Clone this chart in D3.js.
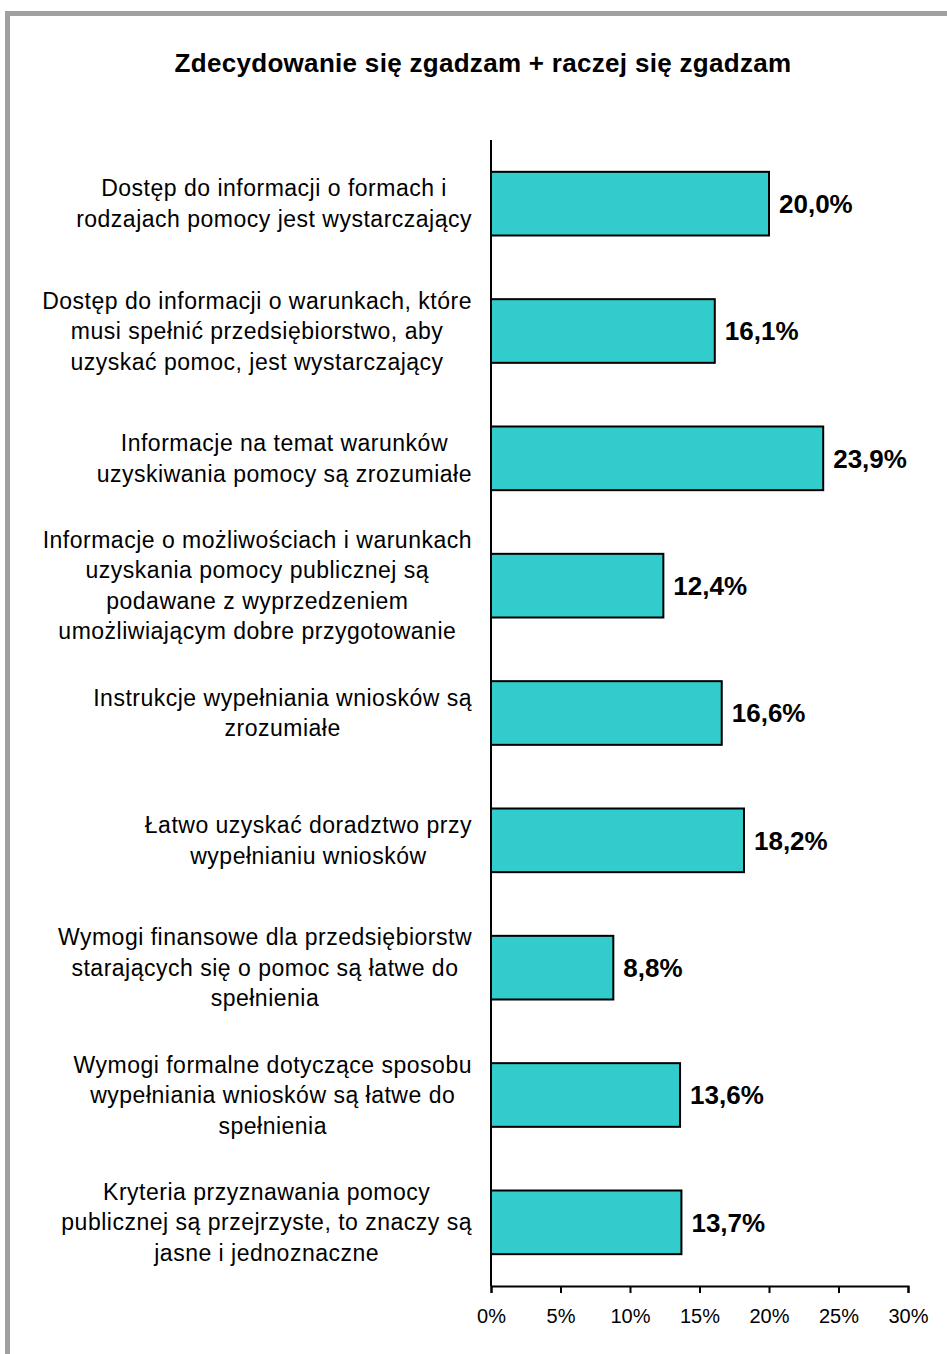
<!DOCTYPE html>
<html>
<head>
<meta charset="utf-8">
<script src="https://cdn.jsdelivr.net/npm/d3@7"></script>
<style>
  html, body { margin: 0; padding: 0; background: #fff; }
  svg { display: block; font-family: "Liberation Sans", Arial, sans-serif; }
</style>
</head>
<body>
<svg id="chart" width="947" height="1354"></svg>
<script>
const title = "Zdecydowanie się zgadzam + raczej się zgadzam";

// category labels, already wrapped the way the original wraps them
const categories = [
  ["Dostęp do informacji o formach i", "rodzajach pomocy jest wystarczający"],
  ["Dostęp do informacji o warunkach, które", "musi spełnić przedsiębiorstwo, aby", "uzyskać pomoc, jest wystarczający"],
  ["Informacje na temat warunków", "uzyskiwania pomocy są zrozumiałe"],
  ["Informacje o możliwościach i warunkach", "uzyskania pomocy publicznej są", "podawane z wyprzedzeniem", "umożliwiającym dobre przygotowanie"],
  ["Instrukcje wypełniania wniosków są", "zrozumiałe"],
  ["Łatwo uzyskać doradztwo przy", "wypełnianiu wniosków"],
  ["Wymogi finansowe dla przedsiębiorstw", "starających się o pomoc są łatwe do", "spełnienia"],
  ["Wymogi formalne dotyczące sposobu", "wypełniania wniosków są łatwe do", "spełnienia"],
  ["Kryteria przyznawania pomocy", "publicznej są przejrzyste, to znaczy są", "jasne i jednoznaczne"]
];
const values = [20.0, 16.1, 23.9, 12.4, 16.6, 18.2, 8.8, 13.6, 13.7];
const xTicks = [0, 5, 10, 15, 20, 25, 30];

const svg = d3.select("#chart");
const plot = { left: 491, right: 908, top: 140, bottom: 1286 };
const labelRight = 472;
const lineH = 30.5;

const pl = d3.formatLocale({ decimal: ",", thousands: " ", grouping: [3], currency: ["", " zł"] });
const fmt = pl.format(".1f");

const x = d3.scaleLinear().domain([0, 30]).range([plot.left, plot.right]);
const y = d3.scaleBand()
  .domain(d3.range(categories.length))
  .range([plot.top, plot.bottom])
  .paddingInner(0.5)
  .paddingOuter(0.25);

// grey frame, runs off the right and bottom edges
svg.append("rect")
  .attr("x", 7.5).attr("y", 13.5)
  .attr("width", 1200).attr("height", 1600)
  .attr("fill", "none")
  .attr("stroke", "#a0a0a0")
  .attr("stroke-width", 5);

svg.append("text")
  .attr("x", 483).attr("y", 72)
  .attr("text-anchor", "middle")
  .style("font-size", "26px")
  .style("font-weight", "bold")
  .style("letter-spacing", "0.3px")
  .text(title);

// bars
svg.append("g")
  .selectAll("rect")
  .data(values)
  .join("rect")
  .attr("x", x(0))
  .attr("y", (d, i) => y(i))
  .attr("width", d => x(d) - x(0))
  .attr("height", y.bandwidth())
  .attr("fill", "#33cccc")
  .attr("stroke", "#000")
  .attr("stroke-width", 2);

// value labels
svg.append("g")
  .selectAll("text")
  .data(values)
  .join("text")
  .attr("x", d => x(d) + 10)
  .attr("y", (d, i) => y(i) + y.bandwidth() / 2)
  .attr("dy", "0.36em")
  .style("font-size", "26px")
  .style("font-weight", "bold")
  .text(d => fmt(d) + "%");

// category labels: block right aligned, lines centred inside the block
const labels = svg.append("g")
  .style("font-size", "23px")
  .style("letter-spacing", "0.5px")
  .selectAll("text")
  .data(categories)
  .join("text")
  .attr("text-anchor", "middle");

labels.each(function (lines, i) {
  const t = d3.select(this);
  const cy = y(i) + y.bandwidth() / 2;
  const y0 = cy - (lines.length - 1) / 2 * lineH + 8;
  lines.forEach((ln, j) => {
    t.append("tspan").attr("y", y0 + j * lineH).text(ln);
  });
  let w = 0;
  t.selectAll("tspan").each(function () { w = Math.max(w, this.getComputedTextLength()); });
  t.selectAll("tspan").attr("x", labelRight - w / 2);
});

// x axis
svg.append("g")
  .attr("transform", `translate(0,${plot.bottom})`)
  .call(d3.axisBottom(x).tickValues(xTicks).tickSize(7).tickPadding(16).tickFormat(d => d + "%"))
  .call(g => g.selectAll("path, line").attr("stroke", "#000").attr("stroke-width", 2))
  .call(g => g.selectAll("text").attr("fill", "#000").style("font-size", "20px").style("font-family", "'Liberation Sans', Arial, sans-serif"));

// y axis line, no ticks
svg.append("line")
  .attr("x1", plot.left).attr("x2", plot.left)
  .attr("y1", plot.top).attr("y2", plot.bottom)
  .attr("stroke", "#000").attr("stroke-width", 2);
</script>
</body>
</html>
